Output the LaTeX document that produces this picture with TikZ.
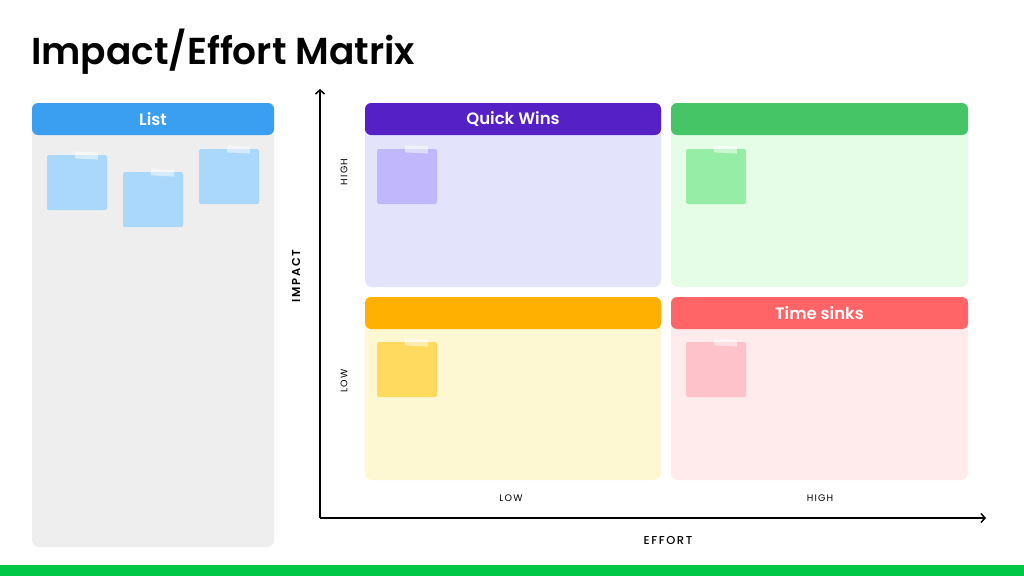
\documentclass[tikz,border=0pt]{standalone}
\usepackage{fontspec}
\setmainfont{Poppins}
\newfontfamily\semib{Poppins SemiBold}
\newfontfamily\medf{Poppins Medium}
\usetikzlibrary{arrows.meta}
\definecolor{listhead}{HTML}{3A9FF0}
\definecolor{listbody}{HTML}{EEEEEE}
\definecolor{bluenote}{HTML}{A9D8FC}
\definecolor{qwhead}{HTML}{5520C5}
\definecolor{qwbody}{HTML}{E3E4FC}
\definecolor{purplenote}{HTML}{C0B7FC}
\definecolor{grhead}{HTML}{45C566}
\definecolor{grbody}{HTML}{E5FCE7}
\definecolor{greennote}{HTML}{95EDA6}
\definecolor{orhead}{HTML}{FFB000}
\definecolor{orbody}{HTML}{FEF8D2}
\definecolor{yellownote}{HTML}{FFDA5E}
\definecolor{rdhead}{HTML}{FF6467}
\definecolor{rdbody}{HTML}{FFEAEC}
\definecolor{pinknote}{HTML}{FEC2CA}
\definecolor{barcol}{HTML}{00C846}
\newcommand\mysticky[3]{%
  \fill[#3,rounded corners=1.5] (#1,#2) rectangle ++(60,55);
  \fill[white,opacity=0.5,rotate around={-3:(#1+40,#2)}] (#1+28,#2-3) rectangle ++(23,7);}
\newcommand\myquad[6]{% x1 y1 x2 y2 head body
  \fill[#6,rounded corners=7] (#1,#2) rectangle (#3,#4);
  \fill[#5,rounded corners=6] (#1,#2) rectangle (#3,#2+32);}
\begin{document}
\begin{tikzpicture}[x=1pt,y=-1pt,
  headtxt/.style={text=white,font=\fontsize{16.5}{18}\selectfont\semib},
  smalltxt/.style={font=\fontsize{9.5}{10}\selectfont\addfontfeature{LetterSpace=12}},
  axistxt/.style={font=\fontsize{11.5}{12}\selectfont\medf\addfontfeature{LetterSpace=14}},
  axisline/.style={line width=1.5pt,-{Straight Barb[length=4pt,width=9pt,line width=1.5pt]}}]
\useasboundingbox (0,0) rectangle (1024,576);
\fill[white] (0,0) rectangle (1024,576);
% title
\node[anchor=base west,inner sep=0,font=\fontsize{37.5}{40}\selectfont\semib] (title) at (31,64) {Impact/Effort Matrix};
% list panel
\myquad{32}{103}{274}{547}{listhead}{listbody}
\node[headtxt] (listlbl) at (153,119.5) {List};
\mysticky{47}{155}{bluenote}
\mysticky{123}{172}{bluenote}
\mysticky{199}{149}{bluenote}
% quadrants
\myquad{365}{103}{661}{287}{qwhead}{qwbody}
\node[headtxt] (qw) at (513,119.5) {Quick Wins};
\myquad{671}{103}{968}{287}{grhead}{grbody}
\myquad{365}{297}{661}{480}{orhead}{orbody}
\myquad{671}{297}{968}{480}{rdhead}{rdbody}
\node[headtxt] (ts) at (819.5,313.5) {Time sinks};
\mysticky{377}{149}{purplenote}
\mysticky{686}{149}{greennote}
\mysticky{377}{342}{yellownote}
\mysticky{686}{342}{pinknote}
% axes
\coordinate (origin) at (320,518);
\coordinate (ytop) at (320,89);
\coordinate (xend) at (986,518);
\draw[axisline] (origin) -- (ytop);
\draw[axisline] (origin) -- (xend);
\node[axistxt,font=\fontsize{11.5}{12}\selectfont\semib\addfontfeature{LetterSpace=14},rotate=90] (impact) at (296,276) {IMPACT};
\node[axistxt] (effort) at (668,540) {EFFORT};
\node[smalltxt,rotate=90] (yhigh) at (344,172) {HIGH};
\node[smalltxt,rotate=90] (ylow) at (344,381) {LOW};
\node[smalltxt] (xlow) at (511,498) {LOW};
\node[smalltxt] (xhigh) at (820,498) {HIGH};
% bottom bar
\fill[barcol] (0,565) rectangle (1024,576);
\end{tikzpicture}
\end{document}
